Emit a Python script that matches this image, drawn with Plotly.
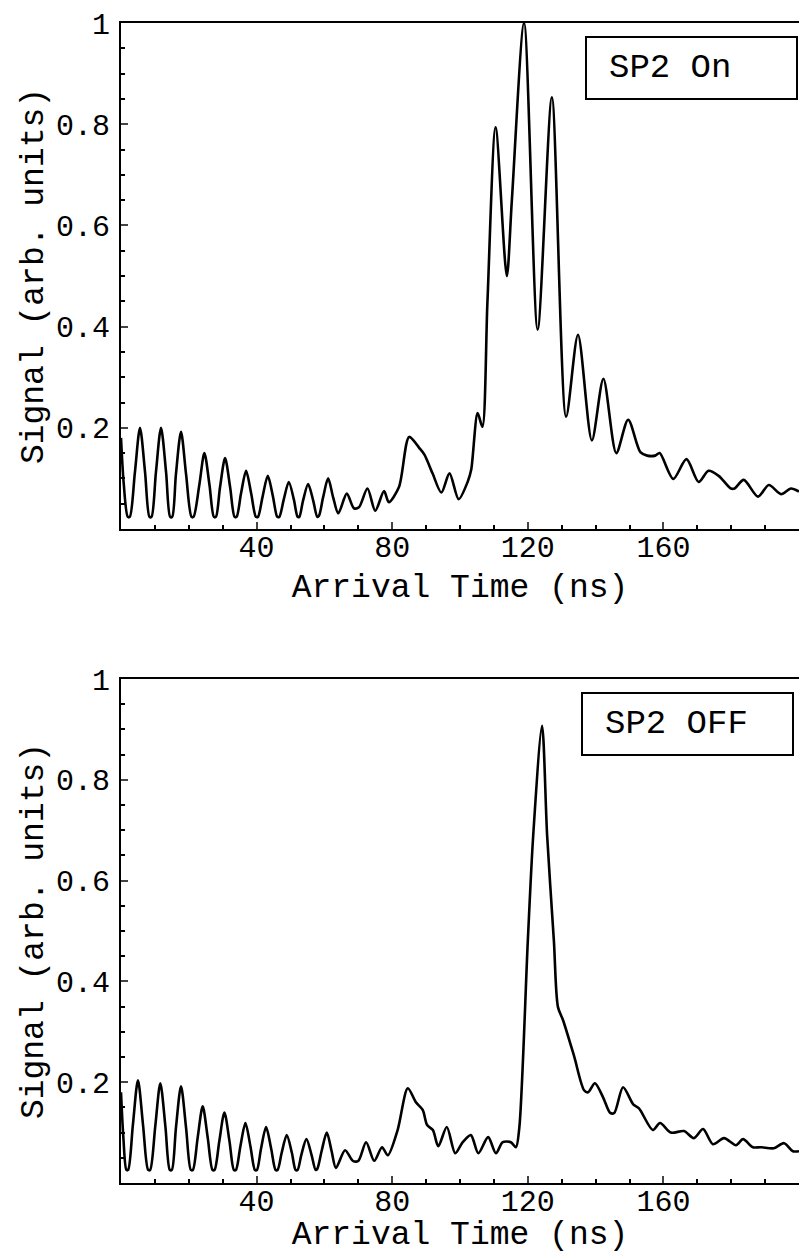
import plotly.graph_objects as go
from plotly.subplots import make_subplots

# ---- data (Arrival time in ns, signal in arb. units) ----
t_on = [0.0, 0.8, 2.0, 2.6, 4.1, 5.6, 7.1, 8.4, 9.0, 10.3, 11.8, 13.3, 14.5, 15.1, 16.2, 17.7,
        19.2, 20.8, 21.4, 23.1, 24.6, 26.1, 27.4, 28.0, 29.2, 30.7, 32.2, 33.5, 34.1, 35.4,
        36.9, 38.4, 39.8, 40.4, 41.8, 43.3, 44.8, 46.1, 46.7, 48.0, 49.5, 51.0, 52.1, 52.6,
        53.7, 55.2, 56.7, 57.9, 58.4, 59.6, 61.1, 62.6, 64.1, 66.6, 68.7, 70.2, 72.7, 75.0,
        77.6, 79.0, 82.0, 85.0, 88.0, 89.5, 91.9, 94.5, 96.9, 99.6, 102.3, 103.3, 105.2,
        106.6, 108.1, 110.5, 113.8, 115.3, 118.9, 122.9, 127.1, 131.3, 134.8, 138.9, 142.3,
        146.1, 149.6, 153.2, 155.2, 157.6, 158.9, 162.9, 166.8, 170.4, 173.3, 176.3, 179.9,
        181.0, 183.7, 187.9, 191.1, 194.7, 197.6, 200.0]
s_on = [0.180, 0.090, 0.024, 0.024, 0.112, 0.200, 0.112, 0.024, 0.024, 0.112, 0.200, 0.112,
        0.024, 0.024, 0.108, 0.192, 0.108, 0.024, 0.024, 0.087, 0.150, 0.087, 0.024, 0.024,
        0.082, 0.140, 0.082, 0.024, 0.024, 0.070, 0.115, 0.070, 0.024, 0.024, 0.065, 0.105,
        0.065, 0.024, 0.024, 0.058, 0.093, 0.058, 0.024, 0.024, 0.056, 0.089, 0.056, 0.024,
        0.026, 0.062, 0.100, 0.062, 0.031, 0.070, 0.041, 0.043, 0.080, 0.036, 0.075, 0.053,
        0.083, 0.182, 0.160, 0.147, 0.110, 0.072, 0.110, 0.059, 0.094, 0.117, 0.229, 0.202,
        0.450, 0.794, 0.500, 0.650, 1.000, 0.394, 0.853, 0.222, 0.384, 0.175, 0.297, 0.150,
        0.216, 0.152, 0.145, 0.145, 0.150, 0.099, 0.138, 0.093, 0.115, 0.105, 0.080, 0.080,
        0.097, 0.064, 0.087, 0.069, 0.080, 0.074]

t_off = [0.0, 0.7, 1.6, 2.1, 3.5, 5.0, 6.5, 8.0, 8.6, 10.1, 11.6, 13.1, 14.4, 15.0, 16.2, 17.7,
         19.2, 20.6, 21.2, 22.6, 24.1, 25.6, 27.0, 27.6, 29.0, 30.5, 32.0, 33.3, 33.9, 35.2,
         36.7, 38.2, 39.5, 40.1, 41.3, 42.8, 44.3, 45.6, 46.2, 47.4, 48.9, 50.4, 51.5, 52.1,
         53.2, 54.7, 56.2, 57.4, 57.9, 59.2, 60.7, 62.1, 63.4, 66.1, 68.4, 70.0, 72.3, 74.7,
         77.0, 78.7, 81.6, 84.6, 87.0, 89.0, 90.3, 92.0, 93.6, 96.1, 98.6, 100.8, 103.2,
         105.4, 108.3, 110.6, 112.6, 115.0, 116.5, 117.5, 120.0, 121.6, 124.2, 125.7, 127.7,
         128.9, 130.4, 133.6, 136.6, 137.8, 139.8, 142.2, 144.3, 145.5, 148.1, 151.1, 152.8,
         156.9, 159.0, 162.2, 166.1, 169.0, 171.7, 174.6, 177.9, 181.4, 183.5, 186.4, 188.8,
         192.6, 195.6, 198.2, 200.0]
s_off = [0.180, 0.090, 0.026, 0.026, 0.115, 0.204, 0.115, 0.026, 0.026, 0.112, 0.198, 0.112,
         0.026, 0.026, 0.109, 0.192, 0.109, 0.026, 0.026, 0.089, 0.152, 0.089, 0.026, 0.026,
         0.083, 0.140, 0.083, 0.026, 0.026, 0.072, 0.119, 0.072, 0.026, 0.026, 0.068, 0.111,
         0.068, 0.026, 0.026, 0.060, 0.095, 0.060, 0.026, 0.026, 0.056, 0.087, 0.056, 0.026,
         0.028, 0.064, 0.100, 0.064, 0.030, 0.065, 0.044, 0.044, 0.081, 0.044, 0.071, 0.055,
         0.105, 0.188, 0.160, 0.145, 0.115, 0.105, 0.073, 0.111, 0.059, 0.081, 0.095, 0.059,
         0.091, 0.059, 0.081, 0.081, 0.071, 0.110, 0.480, 0.690, 0.907, 0.690, 0.480, 0.349,
         0.323, 0.253, 0.184, 0.180, 0.198, 0.170, 0.139, 0.139, 0.190, 0.156, 0.148, 0.105,
         0.119, 0.100, 0.103, 0.089, 0.107, 0.077, 0.089, 0.075, 0.087, 0.071, 0.071, 0.069,
         0.079, 0.063, 0.063]

x_ticks = [40, 80, 120, 160]
y_ticks = [0.2, 0.4, 0.6, 0.8, 1.0]
y_tick_text = ["0.2", "0.4", "0.6", "0.8", "1"]
labels = ["SP2 On", "SP2 OFF"]

FONT = "Courier New, Liberation Mono, monospace"

fig = make_subplots(rows=2, cols=1, vertical_spacing=0.1293)

for i, (t, s) in enumerate([(t_on, s_on), (t_off, s_off)], start=1):
    fig.add_trace(go.Scatter(x=t, y=s, mode="lines",
                             line=dict(color="black", width=2.6, shape="spline", smoothing=0.8),
                             showlegend=False), row=i, col=1)

top_dom = [(1183 - 529) / 1160, 1.0]
bot_dom = [0.0, (1183 - 679) / 1160]

axis_common_x = dict(range=[0, 200], tickvals=x_ticks, ticks="inside", ticklen=7, tickwidth=1.5,
                     showline=True, linewidth=2, linecolor="black", mirror=True,
                     showgrid=False, zeroline=False, ticklabelstandoff=-10,
                     tickfont=dict(family=FONT, size=30, color="black"),
                     minor=dict(dtick=10, ticks="inside", ticklen=4, tickcolor="black"),
                     title=dict(text="Arrival Time (ns)", standoff=9,
                                font=dict(family=FONT, size=33, color="black")))
axis_common_y = dict(range=[0, 1], tickvals=y_ticks, ticktext=y_tick_text, ticks="inside",
                     ticklen=7, tickwidth=1.5, ticklabelstandoff=3,
                     showline=True, linewidth=2, linecolor="black",
                     showgrid=False, zeroline=False,
                     tickfont=dict(family=FONT, size=30, color="black"),
                     minor=dict(dtick=0.05, ticks="inside", ticklen=4, tickcolor="black"),
                     title=dict(text="Signal (arb. units)", standoff=2,
                                font=dict(family=FONT, size=33, color="black")))

fig.update_xaxes(**axis_common_x)
fig.update_yaxes(**axis_common_y)
fig.update_yaxes(domain=top_dom, row=1, col=1)
fig.update_yaxes(domain=bot_dom, row=2, col=1)
fig.update_xaxes(domain=[0, 1])


def px2x(px):
    return (px - 121) / 678


def py2y(py):
    return (1183 - py) / 1160


boxes = [((586, 797, 37, 99), (607, 68)), ((582, 793, 693, 755), (603, 724))]
for lab, ((x0, x1, y0, y1), (tx, ty)) in zip(labels, boxes):
    fig.add_shape(type="rect", xref="paper", yref="paper",
                  x0=px2x(x0), x1=px2x(x1), y0=py2y(y1), y1=py2y(y0),
                  line=dict(color="black", width=2), fillcolor="white")
    fig.add_annotation(text=lab, xref="paper", yref="paper", x=px2x(tx), y=py2y(ty),
                       xanchor="left", yanchor="middle", showarrow=False,
                       font=dict(family=FONT, size=34, color="black"))

fig.update_layout(width=799, height=1254,
                  margin=dict(l=121, r=0, t=23, b=71),
                  plot_bgcolor="white", paper_bgcolor="white")

fig.write_html("out.html", config={"displayModeBar": False},
               post_script="document.body.style.margin='0px';document.body.style.overflow='hidden';")
